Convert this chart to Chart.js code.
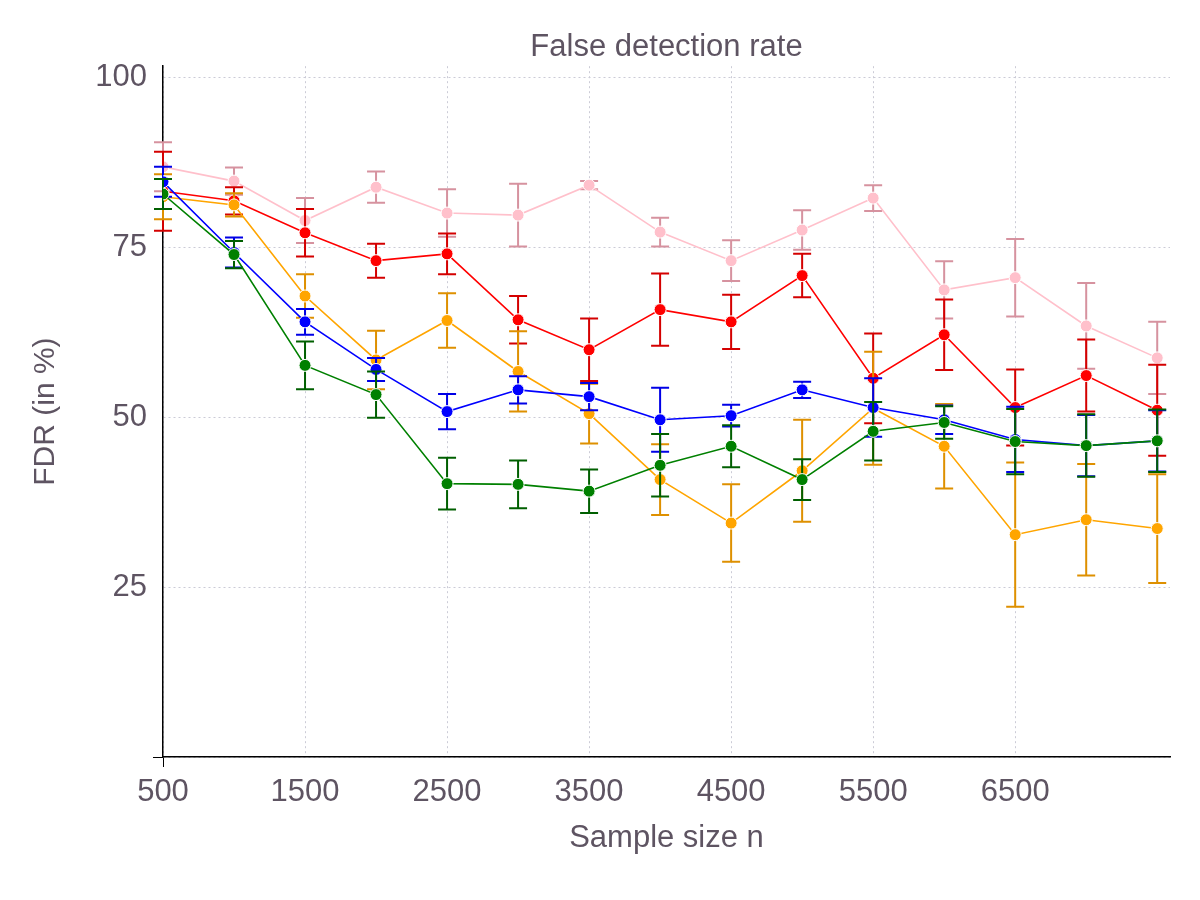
<!DOCTYPE html>
<html>
<head>
<meta charset="utf-8">
<title>False detection rate</title>
<script src="https://cdn.jsdelivr.net/npm/chart.js@4.4.1/dist/chart.umd.min.js"></script>
<style>
  body { margin: 0; background: #fff; }
  #wrap { width: 1200px; height: 900px; }
</style>
</head>
<body>
<div id="wrap"><canvas id="myChart"></canvas></div>
<script>
const ctx = document.getElementById('myChart');

// sample sizes
const sampleSizes = [500, 1000, 1500, 2000, 2500, 3000, 3500, 4000, 4500, 5000, 5500, 6000, 6500, 7000, 7500];
const xTicks = [500, 1500, 2500, 3500, 4500, 5500, 6500];
const yTicks = [0, 25, 50, 75, 100];

// FDR (in %) per method, with error bar half widths
const fdrPink   = [86.8, 84.7, 78.9, 83.8, 80.0, 79.7, 84.1, 77.2, 73.0, 77.5, 82.2, 68.7, 70.5, 63.4, 58.7];
const errPink   = [3.6, 2.0, 3.3, 2.3, 3.5, 4.6, 0.6, 2.1, 3.0, 2.9, 1.9, 4.2, 5.7, 6.3, 5.3];
const fdrRed    = [83.2, 81.8, 77.1, 73.0, 74.0, 64.3, 59.9, 65.8, 64.0, 70.8, 55.7, 62.1, 51.4, 56.1, 51.0];
const errRed    = [5.8, 2.0, 3.5, 2.5, 3.0, 3.5, 4.6, 5.3, 4.0, 3.2, 6.6, 5.2, 5.6, 5.3, 6.7];
const fdrOrange = [82.4, 81.2, 67.8, 58.4, 64.2, 56.7, 50.5, 40.8, 34.4, 42.1, 51.3, 45.7, 32.7, 34.9, 33.6];
const errOrange = [3.3, 1.7, 3.2, 4.3, 4.0, 5.9, 4.4, 5.2, 5.7, 7.5, 8.3, 6.2, 10.6, 8.2, 8.0];
const fdrBlue   = [84.6, 74.2, 64.0, 57.0, 50.8, 54.0, 53.0, 49.6, 50.2, 54.0, 51.4, 49.6, 46.7, 45.8, 46.5];
const errBlue   = [2.2, 2.2, 1.9, 1.7, 2.6, 2.0, 2.0, 4.7, 1.6, 1.2, 4.3, 2.1, 4.8, 4.5, 4.5];
const fdrGreen  = [82.8, 73.9, 57.6, 53.3, 40.2, 40.1, 39.1, 42.9, 45.7, 40.8, 47.9, 49.2, 46.4, 45.8, 46.5];
const errGreen  = [2.2, 2.0, 3.5, 3.4, 3.8, 3.5, 3.2, 4.6, 3.1, 3.0, 4.3, 2.4, 4.8, 4.6, 4.6];

const textColor = '#5e5462';
const fontFamily = '"Liberation Sans", Arial, Helvetica, sans-serif';

function series(values, errors, color, errColor, order){
  return {
    data: sampleSizes.map((n, i) => ({x: n, y: values[i]})),
    errors: errors,
    errColor: errColor,
    borderColor: color,
    backgroundColor: color,
    pointBackgroundColor: color,
    pointBorderColor: '#ffffff',
    pointBorderWidth: 1,
    pointRadius: 6,
    borderWidth: 1.6,
    order: order
  };
}

// error bars drawn under each dataset's own line and points
const errorBars = {
  id: 'errorBars',
  beforeDatasetDraw(chart, args){
    const ds = chart.data.datasets[args.index];
    const x = chart.scales.x, y = chart.scales.y;
    const c = chart.ctx;
    c.save();
    c.strokeStyle = ds.errColor;
    c.lineWidth = 2;
    ds.data.forEach((p, i) => {
      const px = x.getPixelForValue(p.x);
      const top = y.getPixelForValue(p.y + ds.errors[i]);
      const bot = y.getPixelForValue(p.y - ds.errors[i]);
      c.beginPath();
      c.moveTo(px, top); c.lineTo(px, bot);
      c.moveTo(px - 9, top); c.lineTo(px + 9, top);
      c.moveTo(px - 9, bot); c.lineTo(px + 9, bot);
      c.stroke();
    });
    c.restore();
  }
};

new Chart(ctx, {
  type: 'line',
  data: {
    datasets: [
      series(fdrPink, errPink, '#ffc0cb', '#d6929f', 5),
      series(fdrRed, errRed, '#ff0000', '#d40000', 4),
      series(fdrOrange, errOrange, '#ffa500', '#de9000', 3),
      series(fdrBlue, errBlue, '#0000ff', '#0000e6', 2),
      series(fdrGreen, errGreen, '#008000', '#005f00', 1)
    ]
  },
  plugins: [errorBars],
  options: {
    responsive: true,
    maintainAspectRatio: false,
    animation: false,
    layout: { padding: { left: 10, right: 30, top: 0, bottom: 10 } },
    plugins: {
      legend: { display: false },
      tooltip: { enabled: false },
      title: {
        display: true,
        text: 'False detection rate',
        fullSize: false,
        color: textColor,
        font: { family: fontFamily, size: 31, weight: 'normal' },
        padding: { top: 29, bottom: 0 }
      }
    },
    scales: {
      x: {
        type: 'linear',
        min: 500,
        max: 7590,
        afterBuildTicks: axis => { axis.ticks = xTicks.map(v => ({value: v})); },
        afterFit: axis => { axis.height = 133; },
        ticks: {
          color: textColor,
          padding: 7,
          maxRotation: 0,
          font: { family: fontFamily, size: 31 },
          callback: v => String(v)
        },
        grid: {
          color: '#cbcbd6',
          lineWidth: 1,
          tickLength: 10,
          tickColor: c => c.tick && c.tick.value === 500 ? '#000' : 'rgba(0,0,0,0)'
        },
        border: { display: true, color: '#000', width: 1.5, dash: [2, 3] },
        title: {
          display: true,
          text: 'Sample size n',
          color: textColor,
          font: { family: fontFamily, size: 31 },
          padding: { top: 0, bottom: 33 }
        }
      },
      y: {
        min: 0,
        max: 101.6,
        afterBuildTicks: axis => { axis.ticks = yTicks.map(v => ({value: v})); },
        afterFit: axis => { axis.width = 153; },
        ticks: {
          color: textColor,
          padding: 6,
          font: { family: fontFamily, size: 31 },
          callback: v => v === 0 ? '' : String(v)
        },
        grid: {
          color: '#cbcbd6',
          lineWidth: 1,
          tickLength: 10,
          tickColor: c => c.tick && c.tick.value === 0 ? '#000' : 'rgba(0,0,0,0)'
        },
        border: { display: true, color: '#000', width: 1.5, dash: [2, 3] },
        title: {
          display: true,
          text: 'FDR (in %)',
          color: textColor,
          font: { family: fontFamily, size: 30 },
          padding: { top: 18, bottom: 0 }
        }
      }
    }
  }
});
</script>
</body>
</html>
